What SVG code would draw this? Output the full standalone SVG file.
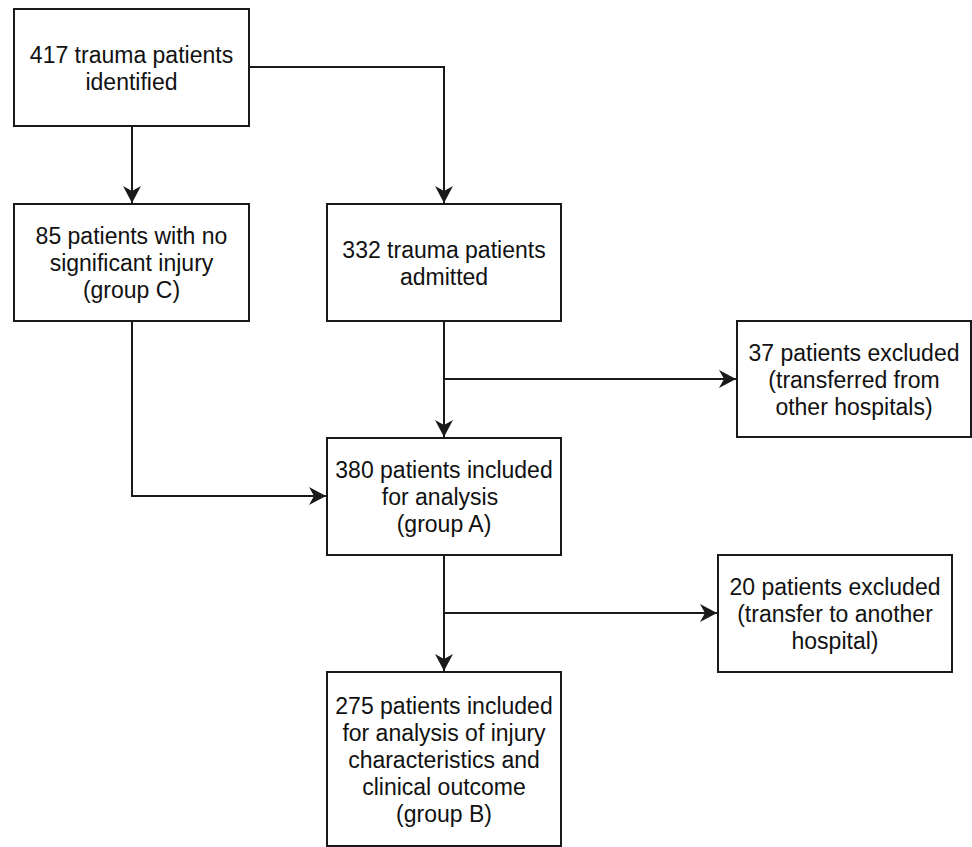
<svg xmlns="http://www.w3.org/2000/svg" width="972" height="847" viewBox="0 0 972 847">
<defs>
<style>
.box{fill:#fff;stroke:#1a1a1a;stroke-width:2}
.t{font-family:"Liberation Sans",Arial,Helvetica,sans-serif;font-size:23px;fill:#111;text-anchor:middle}
.c{fill:none;stroke:#1a1a1a;stroke-width:2}
</style>
<marker id="arr" markerUnits="userSpaceOnUse" viewBox="-18 -10 19 20" refX="0" refY="0" markerWidth="19" markerHeight="20" orient="auto">
<path d="M-17,-9 L0,0 L-17,9 L-12,0 Z" fill="#1a1a1a"/>
</marker>
</defs>
<rect width="972" height="847" fill="#fff"/>
<g id="connectors">
<path class="c" d="M132,126 V203" marker-end="url(#arr)"/>
<path class="c" d="M249,67 H444 V203" marker-end="url(#arr)"/>
<path class="c" d="M444,321 V437" marker-end="url(#arr)"/>
<path class="c" d="M444,379 H736" marker-end="url(#arr)"/>
<path class="c" d="M132,321 V496 H326" marker-end="url(#arr)"/>
<path class="c" d="M444,555 V671" marker-end="url(#arr)"/>
<path class="c" d="M444,613 H717" marker-end="url(#arr)"/>
</g>
<g id="n417">
<rect class="box" x="14" y="9" width="235" height="117"/>
<text class="t"><tspan x="131.5" y="63">417 trauma patients</tspan><tspan x="131.5" y="90">identified</tspan></text>
</g>
<g id="n85">
<rect class="box" x="14" y="204" width="235" height="117"/>
<text class="t"><tspan x="131.5" y="244">85 patients with no</tspan><tspan x="131.5" y="271">significant injury</tspan><tspan x="131.5" y="298">(group C)</tspan></text>
</g>
<g id="n332">
<rect class="box" x="327" y="204" width="234" height="117"/>
<text class="t"><tspan x="444" y="258">332 trauma patients</tspan><tspan x="444" y="285">admitted</tspan></text>
</g>
<g id="n37">
<rect class="box" x="737" y="321" width="234" height="116"/>
<text class="t"><tspan x="854" y="361">37 patients excluded</tspan><tspan x="854" y="388">(transferred from</tspan><tspan x="854" y="415">other hospitals)</tspan></text>
</g>
<g id="n380">
<rect class="box" x="327" y="438" width="234" height="117"/>
<text class="t"><tspan x="444" y="478">380 patients included</tspan><tspan x="440" y="505">for analysis</tspan><tspan x="444" y="532">(group A)</tspan></text>
</g>
<g id="n20">
<rect class="box" x="718" y="555" width="234" height="117"/>
<text class="t"><tspan x="835" y="595">20 patients excluded</tspan><tspan x="835" y="622">(transfer to another</tspan><tspan x="835" y="649">hospital)</tspan></text>
</g>
<g id="n275">
<rect class="box" x="327" y="672" width="234" height="174"/>
<text class="t"><tspan x="444" y="714">275 patients included</tspan><tspan x="444" y="741">for analysis of injury</tspan><tspan x="444" y="768">characteristics and</tspan><tspan x="444" y="795">clinical outcome</tspan><tspan x="444" y="822">(group B)</tspan></text>
</g>
</svg>
